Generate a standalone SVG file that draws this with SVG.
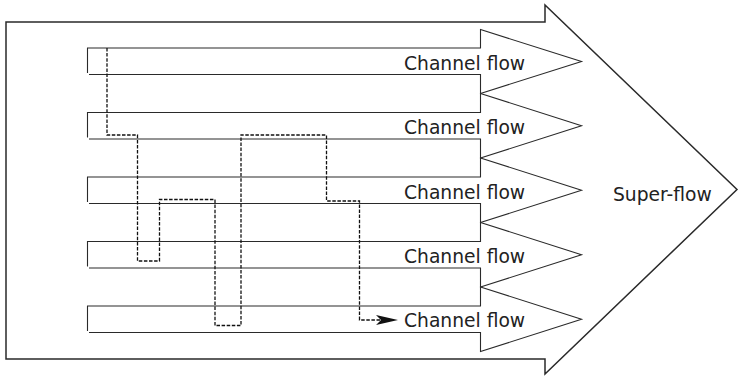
<svg xmlns="http://www.w3.org/2000/svg" width="741" height="377" viewBox="0 0 741 377">
<style>
.outline{fill:#fff;stroke:#2a2a2a;stroke-width:1.5;stroke-linejoin:miter}
.chan{fill:none;stroke:#2a2a2a;stroke-width:1.1}
.lbl{font-family:"DejaVu Sans","Noto Sans",sans-serif;font-size:18.7px;fill:#222}
.dash{fill:none;stroke:#111;stroke-width:1.3;stroke-dasharray:3.5,1.6}
</style>
<defs>
<marker id="ah" viewBox="0 0 22 10" refX="5" refY="5" markerWidth="22" markerHeight="10" markerUnits="userSpaceOnUse" orient="auto">
<path d="M0,0 L22,5 L0,10 L5,5 Z" fill="#111"/>
</marker>
</defs>
<g id="super-flow">
<path class="outline" d="M6,22 H545 V5 L737,189.5 L545,374 V359 H6 Z"/>
<text class="lbl" x="613" y="201">Super-flow</text>
</g>
<g id="channel1">
<path class="chan" d="M87.5,73 V48 H480.5 V29.5 L581.5,61.5 L480.5,93.5 V74.5 H89"/>
<text class="lbl" x="404" y="69.5">Channel flow</text>
</g>
<g id="channel2">
<path class="chan" d="M87.5,137.5 V112.5 H480.5 V93.5 L581.5,125.75 L480.5,158 V139 H89"/>
<text class="lbl" x="404" y="134">Channel flow</text>
</g>
<g id="channel3">
<path class="chan" d="M87.5,202 V177 H480.5 V158 L581.5,190.25 L480.5,222.5 V203.5 H89"/>
<text class="lbl" x="404" y="198.5">Channel flow</text>
</g>
<g id="channel4">
<path class="chan" d="M87.5,266.5 V241.5 H480.5 V222.5 L581.5,254.75 L480.5,287 V268 H89"/>
<text class="lbl" x="404" y="263">Channel flow</text>
</g>
<g id="channel5">
<path class="chan" d="M87.5,331 V306 H480.5 V287 L581.5,319.25 L480.5,351.5 V332.5 H89"/>
<text class="lbl" x="404" y="326.5">Channel flow</text>
</g>
<g id="connectors">
<path class="dash" marker-end="url(#ah)" d="M107,48 V135 H137.5 V261 H159.5 V199.5 H215 V325.5 H241 V135 H326.5 V201 H359.5 V320 H381"/>
</g>
</svg>
